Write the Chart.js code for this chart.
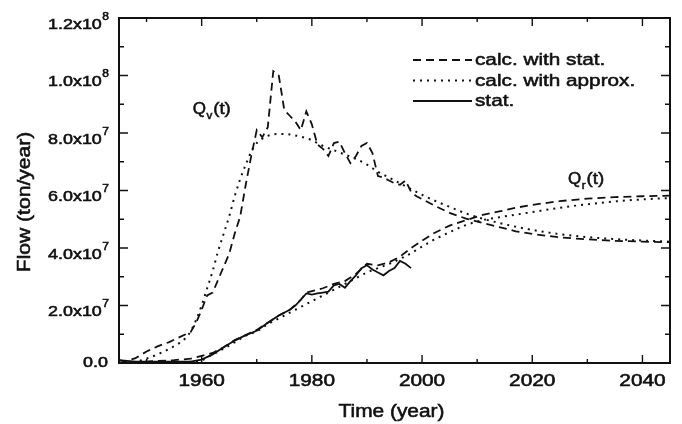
<!DOCTYPE html>
<html lang="en">
<head>
    <meta charset="UTF-8">
    <meta name="viewport" content="width=device-width, initial-scale=1.0">
    <script src="https://cdn.jsdelivr.net/npm/chart.js@4.4.1/dist/chart.umd.min.js"></script>
    <title>Flow (ton/year)</title>
    <style>
        html, body { margin: 0; padding: 0; background: #fff; }
        #wrap { width: 682px; height: 424px; position: relative; }
    </style>
</head>
<body>
    <div id="wrap"><canvas id="flowChart"></canvas></div>
    <script>
        // flows in units of 1e7 ton/year
        const qvCalcYears = [1945, 1946, 1948, 1950, 1952, 1954, 1956, 1958, 1959, 1960, 1961, 1962, 1963, 1964, 1965, 1966, 1967, 1968, 1969, 1970, 1971, 1972, 1973, 1974, 1975, 1976, 1977, 1978, 1979, 1980, 1981, 1982, 1983, 1984, 1985, 1986, 1987, 1988, 1989, 1990, 1991, 1992, 1993, 1994, 1995, 1996, 1997, 1998, 1999, 2000, 2002, 2005, 2008, 2011, 2014, 2017, 2020, 2025, 2030, 2035, 2040, 2045];
        const qvCalcFlow = [0.1, 0.05, 0.17, 0.4, 0.58, 0.72, 0.9, 1.08, 1.4, 1.85, 2.35, 2.45, 2.9, 3.35, 3.8, 4.5, 5.1, 6.2, 7.2, 8.1, 7.85, 8.2, 10.15, 10.0, 8.8, 8.6, 8.4, 8.1, 8.75, 8.3, 7.6, 7.45, 7.2, 7.65, 7.7, 7.3, 6.95, 7.2, 7.55, 7.65, 7.3, 6.5, 6.45, 6.35, 6.25, 6.2, 6.35, 5.95, 5.8, 5.7, 5.5, 5.22, 5.02, 4.87, 4.73, 4.58, 4.49, 4.37, 4.3, 4.25, 4.22, 4.2];

        const qvApproxYears = [1945, 1948, 1950, 1952, 1954, 1956, 1957, 1958, 1959, 1960, 1961, 1962, 1963, 1964, 1965, 1966, 1967, 1968, 1969, 1970, 1971, 1972, 1974, 1976, 1978, 1980, 1982, 1984, 1986, 1988, 1990, 1992, 1994, 1996, 1998, 2000, 2002, 2005, 2008, 2011, 2014, 2017, 2020, 2025, 2030, 2035, 2040, 2045];
        const qvApproxFlow = [0, 0.05, 0.15, 0.3, 0.48, 0.7, 0.85, 1.1, 1.5, 2.0, 2.6, 3.2, 3.9, 4.5, 5.1, 5.8, 6.4, 6.9, 7.35, 7.65, 7.8, 7.9, 7.97, 7.95, 7.87, 7.75, 7.55, 7.4, 7.25, 7.1, 6.9, 6.65, 6.45, 6.25, 6.05, 5.85, 5.67, 5.43, 5.2, 5.02, 4.87, 4.74, 4.63, 4.48, 4.38, 4.31, 4.26, 4.22];

        const qrCalcYears = [1945, 1950, 1955, 1958, 1960, 1962, 1964, 1966, 1968, 1970, 1972, 1974, 1976, 1978, 1979, 1980, 1982, 1984, 1986, 1988, 1990, 1992, 1994, 1996, 1998, 2000, 2002, 2005, 2008, 2011, 2014, 2017, 2020, 2025, 2030, 2035, 2040, 2045];
        const qrCalcFlow = [0, 0.05, 0.1, 0.15, 0.25, 0.35, 0.55, 0.8, 0.97, 1.15, 1.4, 1.65, 1.85, 2.2, 2.45, 2.5, 2.6, 2.75, 2.85, 3.1, 3.45, 3.4, 3.5, 3.7, 4.0, 4.25, 4.5, 4.78, 4.97, 5.15, 5.27, 5.4, 5.5, 5.63, 5.72, 5.77, 5.8, 5.82];

        const qrApproxYears = [1945, 1955, 1960, 1962, 1964, 1966, 1968, 1970, 1972, 1974, 1976, 1978, 1980, 1982, 1984, 1986, 1988, 1990, 1992, 1994, 1996, 1998, 2000, 2002, 2005, 2008, 2011, 2014, 2017, 2020, 2025, 2030, 2035, 2040, 2045];
        const qrApproxFlow = [0, 0.02, 0.1, 0.3, 0.5, 0.72, 0.95, 1.1, 1.35, 1.55, 1.75, 1.95, 2.15, 2.35, 2.55, 2.75, 2.95, 3.15, 3.3, 3.45, 3.62, 3.82, 4.05, 4.27, 4.55, 4.8, 4.97, 5.07, 5.16, 5.25, 5.4, 5.52, 5.62, 5.69, 5.74];

        const qrStatYears = [1945, 1948, 1950, 1955, 1958, 1960, 1962, 1964, 1966, 1968, 1970, 1972, 1974, 1976, 1977, 1978, 1979, 1980, 1981, 1982, 1983, 1984, 1985, 1986, 1987, 1988, 1989, 1990, 1991, 1992, 1993, 1994, 1995, 1996, 1997, 1998];
        const qrStatFlow = [0.1, 0.05, 0.05, 0.05, 0.05, 0.12, 0.3, 0.55, 0.78, 0.97, 1.12, 1.4, 1.65, 1.85, 2.0, 2.2, 2.42, 2.38, 2.42, 2.45, 2.48, 2.7, 2.75, 2.62, 2.85, 3.05, 3.3, 3.4, 3.25, 3.15, 3.05, 3.2, 3.3, 3.55, 3.45, 3.3];

        const xTicks = [1960, 1980, 2000, 2020, 2040];
        const yTicks = [0, 2, 4, 6, 8, 10, 12];
        const legendLabels = ['calc. with stat.', 'calc. with approx.', 'stat.'];

        const FONT = '"Liberation Sans", Arial, Helvetica, sans-serif';
        const INK = '#111';
        const DASH = [8, 5];
        const DOT = [2, 5];

        function pairs(xs, ys) {
            return xs.map((x, i) => ({ x: x, y: ys[i] }));
        }

        // horizontally widened text with a light outline, returns drawn width
        function wideText(ctx, str, x, y, size, sx, align) {
            ctx.save();
            ctx.font = size + 'px ' + FONT;
            ctx.fillStyle = INK;
            ctx.strokeStyle = INK;
            ctx.lineWidth = 0.55;
            ctx.setLineDash([]);
            ctx.textBaseline = 'alphabetic';
            ctx.textAlign = align || 'left';
            ctx.translate(x, y);
            ctx.scale(sx, 1);
            ctx.fillText(str, 0, 0);
            ctx.strokeText(str, 0, 0);
            const w = ctx.measureText(str).width * sx;
            ctx.restore();
            return w;
        }

        function textWidth(ctx, str, size, sx) {
            ctx.save();
            ctx.font = size + 'px ' + FONT;
            const w = ctx.measureText(str).width * sx;
            ctx.restore();
            return w;
        }

        function drawQ(ctx, x, y, sub) {
            let w = wideText(ctx, 'Q', x, y, 17, 1.0);
            w += wideText(ctx, sub, x + w + 0.5, y + 5, 11, 1.05);
            wideText(ctx, '(t)', x + w + 1.5, y, 17, 1.1);
        }

        // frame, inward ticks, labels and legend
        const framePlugin = {
            id: 'frame',
            afterDatasetsDraw(chart) {
                const ctx = chart.ctx;
                const a = chart.chartArea;
                const xs = chart.scales.x;
                const ys = chart.scales.y;

                ctx.save();
                ctx.strokeStyle = INK;
                ctx.lineWidth = 2;
                ctx.setLineDash([]);
                ctx.strokeRect(a.left, a.top, a.right - a.left, a.bottom - a.top);

                ctx.lineWidth = 1.4;
                ctx.beginPath();
                for (let yr = 1950; yr <= 2040; yr += 10) {
                    const px = xs.getPixelForValue(yr);
                    const len = yr % 20 === 0 ? 8 : 4;
                    ctx.moveTo(px, a.bottom); ctx.lineTo(px, a.bottom - len);
                    ctx.moveTo(px, a.top); ctx.lineTo(px, a.top + len);
                }
                for (let v = 1; v <= 11; v++) {
                    const py = ys.getPixelForValue(v);
                    const len = v % 2 === 0 ? 9 : 5;
                    ctx.moveTo(a.left, py); ctx.lineTo(a.left + len, py);
                    ctx.moveTo(a.right, py); ctx.lineTo(a.right - len, py);
                }
                ctx.stroke();
                ctx.restore();

                xTicks.forEach(t => {
                    wideText(ctx, String(t), xs.getPixelForValue(t), 386, 16, 1.3, 'center');
                });

                const labelRight = 109;
                yTicks.forEach(v => {
                    const py = ys.getPixelForValue(v);
                    if (v === 0) {
                        wideText(ctx, '0.0', labelRight - 1, py + 3.5, 14, 1.28, 'right');
                        return;
                    }
                    const exp = v >= 10 ? 8 : 7;
                    const mant = (v / Math.pow(10, exp - 7)).toFixed(1) + 'x10';
                    const supW = textWidth(ctx, String(exp), 10, 1.2);
                    wideText(ctx, String(exp), labelRight, py + 1.5, 10, 1.2, 'right');
                    wideText(ctx, mant, labelRight - supW - 0.5, py + 10.5, 14, 1.28, 'right');
                });

                wideText(ctx, 'Time (year)', (a.left + a.right) / 2 - 3, 416.5, 18, 1.16, 'center');
                ctx.save();
                ctx.translate(29.5, 202);
                ctx.rotate(-Math.PI / 2);
                wideText(ctx, 'Flow (ton/year)', 0, 0, 18, 1.17, 'center');
                ctx.restore();

                // legend
                const rows = [65, 85.5, 106];
                const styles = [DASH, DOT, []];
                ctx.save();
                ctx.strokeStyle = INK;
                ctx.lineWidth = 1.8;
                rows.forEach((by, i) => {
                    ctx.setLineDash(styles[i]);
                    ctx.beginPath();
                    ctx.moveTo(413, by - 5);
                    ctx.lineTo(472, by - 5);
                    ctx.stroke();
                    wideText(ctx, legendLabels[i], 475, by, 17, 1.22);
                });
                ctx.restore();

                drawQ(ctx, 192.7, 114, 'v');
                drawQ(ctx, 568, 184, 'r');
            }
        };

        function series(xs, ys, dash, smooth) {
            return {
                data: pairs(xs, ys),
                showLine: true,
                borderColor: INK,
                borderWidth: dash === DOT ? 2 : 1.8,
                borderDash: dash,
                pointRadius: 0,
                fill: false,
                cubicInterpolationMode: smooth ? 'monotone' : 'default',
                tension: 0
            };
        }

        const flowChart = new Chart(document.getElementById('flowChart'), {
            type: 'scatter',
            data: {
                datasets: [
                    series(qvCalcYears, qvCalcFlow, DASH, false),
                    series(qvApproxYears, qvApproxFlow, DOT, true),
                    series(qrCalcYears, qrCalcFlow, DASH, false),
                    series(qrApproxYears, qrApproxFlow, DOT, true),
                    series(qrStatYears, qrStatFlow, [], false)
                ]
            },
            options: {
                responsive: true,
                maintainAspectRatio: false,
                animation: false,
                layout: { padding: { left: 119, top: 18, right: 12, bottom: 61 } },
                plugins: { legend: { display: false }, tooltip: { enabled: false } },
                scales: {
                    x: { type: 'linear', min: 1945, max: 2045, display: false },
                    y: { type: 'linear', min: 0, max: 12, display: false }
                }
            },
            plugins: [framePlugin]
        });
    </script>
</body>
</html>
